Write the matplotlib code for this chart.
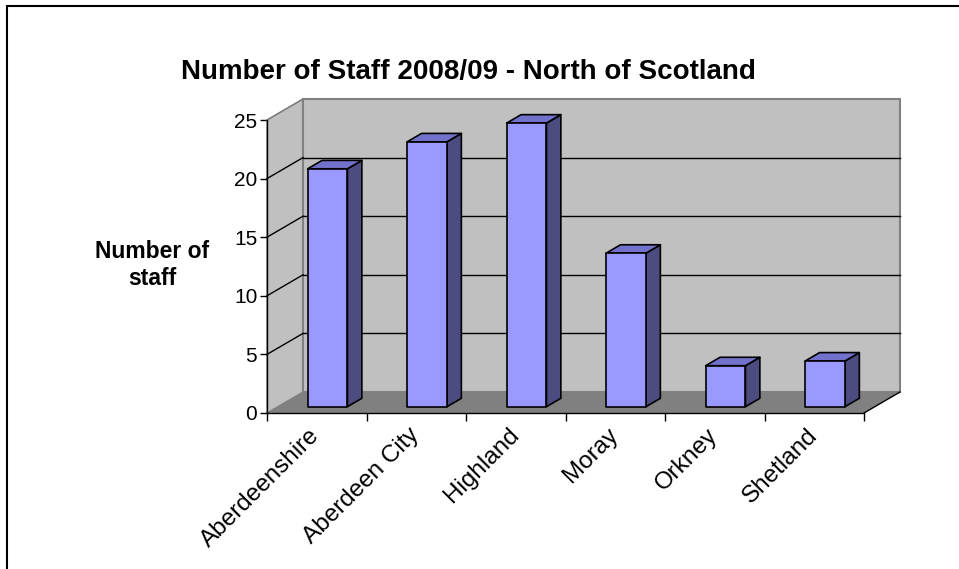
import matplotlib.pyplot as plt
from matplotlib.patches import Polygon

plt.rcParams['font.family'] = ['Liberation Sans', 'DejaVu Sans']

# Données
regions = ['Aberdeenshire', 'Aberdeen City', 'Highland', 'Moray', 'Orkney', 'Shetland']
staff = [20.3, 22.6, 24.2, 13.1, 3.5, 3.9]
y_ticks = [0, 5, 10, 15, 20, 25]

# Couleurs façon Excel
c_front = '#9999FF'
c_side = '#4C4C80'
c_top = '#7272CC'
c_wall = '#C0C0C0'
c_floor = '#808080'

W, H = 959, 569
fig = plt.figure(figsize=(W / 100, H / 100), dpi=100)

# Axe du plan avant (en pixels -> fraction de figure)
x0, x1 = 267, 864
y0, y1 = 413, 120
ax = fig.add_axes([x0 / W, 1 - y0 / H, (x1 - x0) / W, (y0 - y1) / H])
n = len(regions)
ymax = 25
ax.set_xlim(0, n)
ax.set_ylim(0, ymax)

# Décalage de profondeur (en unités de données)
DX = 36 / ((x1 - x0) / n)
DY = 21 / ((y0 - y1) / ymax)

def pt(x, y, f):
    return (x + f * DX, y + f * DY)

# Mur de gauche
ax.add_patch(Polygon([(0, 0), (0, ymax), pt(0, ymax, 1), pt(0, 0, 1)],
                     closed=True, facecolor=c_wall, edgecolor='#808080', lw=1, clip_on=False, zorder=1))
# Mur du fond
ax.add_patch(Polygon([pt(0, 0, 1), pt(n, 0, 1), pt(n, ymax, 1), pt(0, ymax, 1)],
                     closed=True, facecolor=c_wall, edgecolor='#808080', lw=1.5, clip_on=False, zorder=1))
# Sol
ax.add_patch(Polygon([(0, 0), (n, 0), pt(n, 0, 1), pt(0, 0, 1)],
                     closed=True, facecolor=c_floor, edgecolor='none', clip_on=False, zorder=2))

# Quadrillage
for v in y_ticks[1:]:
    g = '#808080' if v == ymax else 'black'
    ax.plot([0, DX], [v, v + DY], color=g, lw=1, clip_on=False, zorder=2)
    if v < ymax:
        ax.plot([DX, n + DX], [v + DY, v + DY], color=g, lw=1, clip_on=False, zorder=2)

# Barres
f0, f1 = 0.3, 0.7
bw = 0.4
for i, v in enumerate(staff):
    xa = i + 0.5 - bw / 2
    xb = xa + bw
    front = [pt(xa, 0, f0), pt(xb, 0, f0), pt(xb, v, f0), pt(xa, v, f0)]
    side = [pt(xb, 0, f0), pt(xb, 0, f1), pt(xb, v, f1), pt(xb, v, f0)]
    top = [pt(xa, v, f0), pt(xb, v, f0), pt(xb, v, f1), pt(xa, v, f1)]
    for poly, col in [(side, c_side), (top, c_top), (front, c_front)]:
        ax.add_patch(Polygon(poly, closed=True, facecolor=col, edgecolor='black',
                             lw=1.2, joinstyle='round', clip_on=False, zorder=3))

# Arêtes avant
ax.plot([n, n + DX], [0, DY], color='black', lw=1, clip_on=False, zorder=4)

for s in ['top', 'right']:
    ax.spines[s].set_visible(False)
ax.spines['left'].set_linewidth(1)
ax.spines['bottom'].set_linewidth(1)
ax.spines['left'].set_zorder(5)
ax.patch.set_visible(False)

ax.set_yticks(y_ticks)
ax.set_yticklabels([str(t) for t in y_ticks], fontsize=15)
ax.tick_params(axis='y', length=5, width=1, pad=2)

ax.set_xticks(range(n + 1))
ax.set_xticklabels([])
ax.set_xticks([i + 0.42 for i in range(n)], minor=True)
ax.set_xticklabels(regions, minor=True, rotation=45, ha='right', va='top',
                   rotation_mode='anchor', fontsize=17.5)
ax.tick_params(axis='x', which='major', length=6, width=1)
ax.tick_params(axis='x', which='minor', length=0, pad=8)

fig.text(468 / W, 1 - 72 / H, 'Number of Staff 2008/09 - North of Scotland',
         ha='center', va='center', fontsize=20, fontweight='bold')
fig.text(152 / W, 1 - 265 / H, 'Number of\nstaff', ha='center', va='center',
         fontsize=16.5, fontweight='bold', linespacing=1.25)

# Cadre
fig.add_artist(plt.Rectangle((7 / W, -0.1), 1.1, 1 - 5.5 / H + 0.1, transform=fig.transFigure,
                             fill=False, edgecolor='black', lw=1.5))

fig.savefig('out.png', dpi=100)
